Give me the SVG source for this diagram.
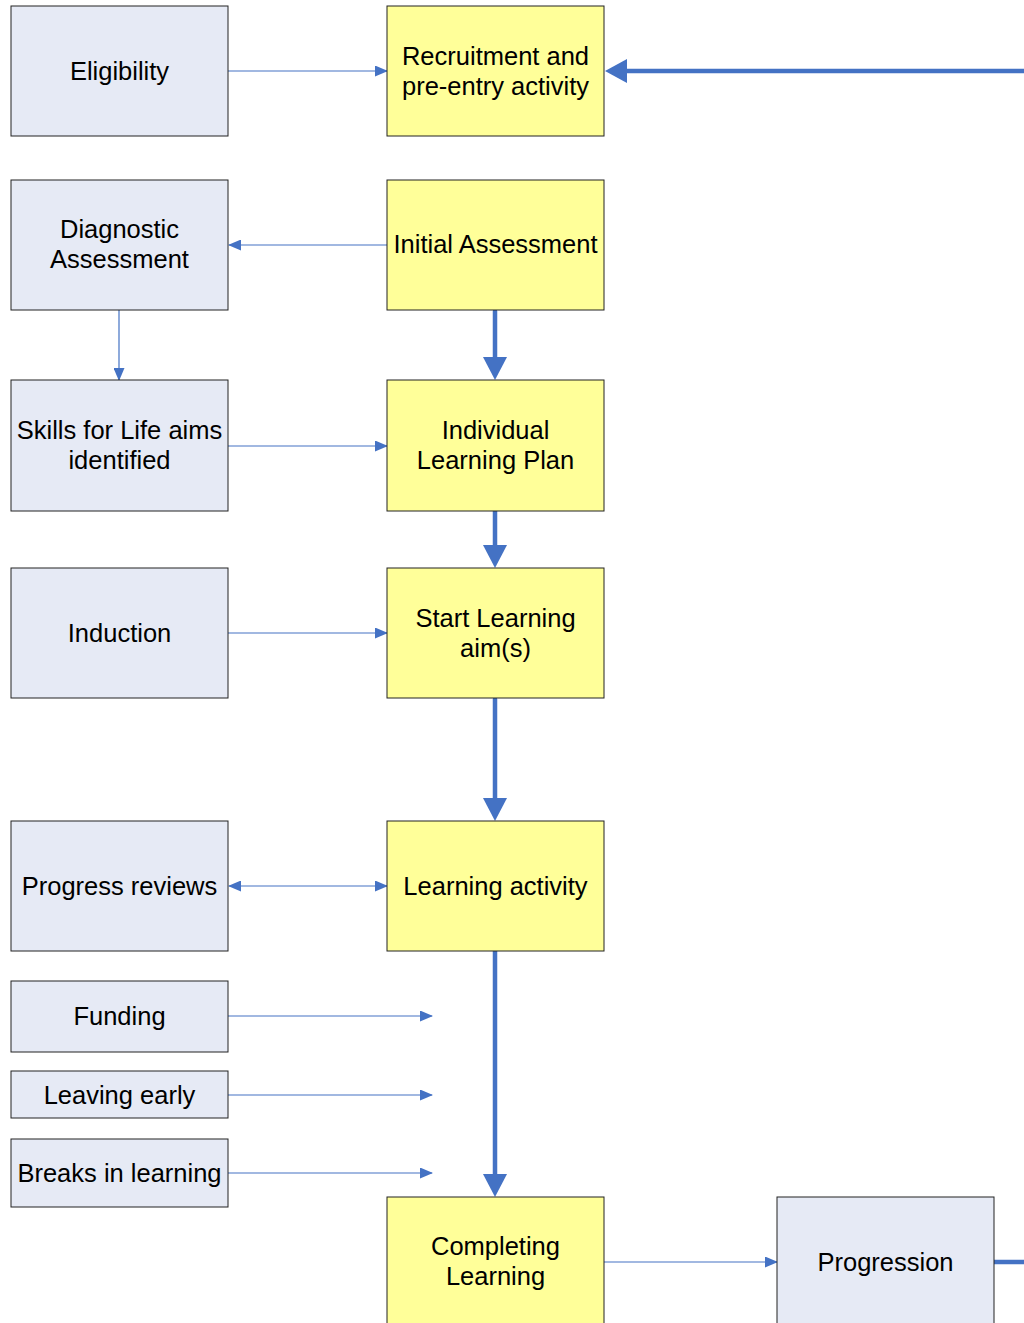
<svg xmlns="http://www.w3.org/2000/svg" width="1024" height="1323" viewBox="0 0 1024 1323">
<style>
.b{fill:#E6EAF5;stroke:#222;stroke-width:1}
.y{fill:#FFFF99;stroke:#222;stroke-width:1}
text{font-family:"Liberation Sans",Arial,sans-serif;font-size:25.5px;fill:#000;text-anchor:middle}
.t{stroke:#4472C4;stroke-width:1.2;fill:none}
.k{stroke:#4472C4;stroke-width:4.5;fill:none;stroke-linecap:round}
</style>
<defs>
<marker id="a" markerUnits="userSpaceOnUse" markerWidth="13" markerHeight="11" refX="12" refY="5.500" orient="auto-start-reverse" viewBox="0 0 13 11"><path d="M0,0L13,5.500L0,11z" fill="#4472C4"/></marker>
</defs>
<g id="connectors">
<line class="t" x1="228" y1="71" x2="387" y2="71" marker-end="url(#a)"/>
<line class="k" x1="1026" y1="71" x2="627" y2="71"/>
<path d="M627,59L605,71L627,83z" fill="#4472C4"/>
<line class="t" x1="387" y1="245" x2="229" y2="245" marker-end="url(#a)"/>
<line class="t" x1="119" y1="310" x2="119" y2="380" marker-end="url(#a)"/>
<line class="k" x1="495" y1="311" x2="495" y2="358"/>
<path d="M483,357L495,380L507,357z" fill="#4472C4"/>
<line class="t" x1="228" y1="446" x2="387" y2="446" marker-end="url(#a)"/>
<line class="k" x1="495" y1="511" x2="495" y2="546"/>
<path d="M483,545L495,568L507,545z" fill="#4472C4"/>
<line class="t" x1="228" y1="633" x2="387" y2="633" marker-end="url(#a)"/>
<line class="k" x1="495" y1="699" x2="495" y2="799"/>
<path d="M483,798L495,821L507,798z" fill="#4472C4"/>
<line class="t" x1="229" y1="886" x2="387" y2="886" marker-start="url(#a)" marker-end="url(#a)"/>
<line class="t" x1="228" y1="1016" x2="432" y2="1016" marker-end="url(#a)"/>
<line class="t" x1="228" y1="1095" x2="432" y2="1095" marker-end="url(#a)"/>
<line class="t" x1="228" y1="1173" x2="432" y2="1173" marker-end="url(#a)"/>
<line class="k" x1="495" y1="951" x2="495" y2="1175"/>
<path d="M483,1174L495,1197L507,1174z" fill="#4472C4"/>
<line class="t" x1="604" y1="1262" x2="777" y2="1262" marker-end="url(#a)"/>
<line class="k" x1="994" y1="1262" x2="1026" y2="1262"/>
</g>
<g id="eligibility"><rect class="b" x="11" y="6" width="217" height="130"/><text x="119.500" y="80">Eligibility</text></g>
<g id="recruitment"><rect class="y" x="387" y="6" width="217" height="130"/><text x="495.500" y="65">Recruitment and</text><text x="495.500" y="95">pre-entry activity</text></g>
<g id="diagnostic"><rect class="b" x="11" y="180" width="217" height="130"/><text x="119.500" y="238">Diagnostic</text><text x="119.500" y="268">Assessment</text></g>
<g id="initial"><rect class="y" x="387" y="180" width="217" height="130"/><text x="495.500" y="253">Initial Assessment</text></g>
<g id="skills"><rect class="b" x="11" y="380" width="217" height="131"/><text x="119.500" y="439">Skills for Life aims</text><text x="119.500" y="469">identified</text></g>
<g id="ilp"><rect class="y" x="387" y="380" width="217" height="131"/><text x="495.500" y="439">Individual</text><text x="495.500" y="469">Learning Plan</text></g>
<g id="induction"><rect class="b" x="11" y="568" width="217" height="130"/><text x="119.500" y="642">Induction</text></g>
<g id="start"><rect class="y" x="387" y="568" width="217" height="130"/><text x="495.500" y="627">Start Learning</text><text x="495.500" y="657">aim(s)</text></g>
<g id="progress"><rect class="b" x="11" y="821" width="217" height="130"/><text x="119.500" y="895">Progress reviews</text></g>
<g id="learning"><rect class="y" x="387" y="821" width="217" height="130"/><text x="495.500" y="895">Learning activity</text></g>
<g id="funding"><rect class="b" x="11" y="981" width="217" height="71"/><text x="119.500" y="1025">Funding</text></g>
<g id="leaving"><rect class="b" x="11" y="1071" width="217" height="47"/><text x="119.500" y="1104">Leaving early</text></g>
<g id="breaks"><rect class="b" x="11" y="1139" width="217" height="68"/><text x="119.500" y="1182">Breaks in learning</text></g>
<g id="completing"><rect class="y" x="387" y="1197" width="217" height="140"/><text x="495.500" y="1255">Completing</text><text x="495.500" y="1285">Learning</text></g>
<g id="progression"><rect class="b" x="777" y="1197" width="217" height="140"/><text x="885.500" y="1271">Progression</text></g>
</svg>
